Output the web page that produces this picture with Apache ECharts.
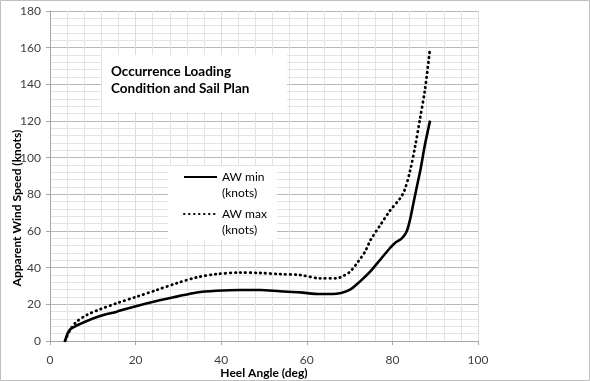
<!DOCTYPE html>
<html><head><meta charset="utf-8">
<script src="https://cdn.jsdelivr.net/npm/echarts@6/dist/echarts.min.js"></script>
<style>html,body{margin:0;padding:0;background:#fff}#c{width:590px;height:381px}</style>
</head><body><div id="c"></div>
<script>
const heelMin = [3.5, 4.3, 5.1, 8.2, 11.7, 15.6, 20.3, 24.9, 29.6, 34.3, 38.9, 44.4, 49.1, 53.7, 58.4, 63.1, 66, 68, 70.1, 72.4, 74.8, 77.1, 79.4, 80.6, 82.2, 83.3, 84.1, 84.9, 85.7, 86.6, 87.6, 88.8];
const awMin   = [0, 5, 7, 10.5, 13.6, 16, 19.1, 21.8, 24.2, 26.5, 27.4, 27.8, 27.8, 27.1, 26.5, 25.6, 25.6, 26.2, 28, 32.4, 37.8, 44.2, 50.6, 53.5, 56, 59.6, 66, 75, 84, 94, 107, 120.2];
const heelMax = [3.5, 4.7, 6.2, 8.6, 11.7, 15.6, 20.3, 24.9, 29.6, 34.3, 38.9, 44.4, 49.1, 53.7, 58.4, 63.1, 67, 68.5, 70.1, 72, 73.6, 74.9, 77.1, 79.4, 81.8, 82.8, 84.1, 85.3, 86.4, 87.6, 88.8];
const awMax   = [0, 6, 10.5, 14.2, 17.3, 20.6, 24.2, 27.8, 31.5, 34.7, 36.5, 37.3, 37.1, 36.5, 36, 34.2, 34.2, 35.5, 37.8, 43.3, 48.7, 55.1, 63, 71, 77.8, 82, 92.5, 106, 120.6, 137, 159.7];
const seriesNames = ['AW min (knots)', 'AW max (knots)'];
const chartTitle = 'Occurrence Loading\nCondition and Sail Plan';
const xName = 'Heel Angle (deg)';
const yName = 'Apparent Wind Speed (knots)';

const FONT = 'Lato';
const chart = echarts.init(document.getElementById('c'), null, {renderer: 'canvas'});
const pairs = (xs, ys) => xs.map((x, i) => [x, ys[i]]);
chart.setOption({
  animation: false,
  backgroundColor: '#fff',
  textStyle: {fontFamily: FONT},
  grid: {left: 50, right: 112, top: 11, bottom: 40, containLabel: false, outerBoundsMode: 'none'},
  xAxis: {
    type: 'value', min: 0, max: 100, interval: 20,
    name: xName, nameLocation: 'middle', nameGap: 26, nameMoveOverlap: false,
    nameTextStyle: {fontFamily: FONT, fontWeight: 'bold', fontSize: 12, color: '#000'},
    axisLine: {show: true, lineStyle: {color: '#a6a6a6', width: 1}},
    axisTick: {show: true, length: 4, inside: false, lineStyle: {color: '#a6a6a6'}},
    axisLabel: {fontFamily: FONT, fontSize: 12, color: '#404040', margin: 13},
    splitLine: {show: true, lineStyle: {color: '#dcdcdc', width: 1}},
    minorTick: {show: false, splitNumber: 5},
    minorSplitLine: {show: true, lineStyle: {color: '#e4e4e4', width: 1}}
  },
  yAxis: {
    type: 'value', min: 0, max: 180, interval: 20,
    name: yName, nameLocation: 'middle', nameGap: 27, nameRotate: 90, nameMoveOverlap: false,
    nameTextStyle: {fontFamily: FONT, fontWeight: 'bold', fontSize: 12, color: '#000', padding: [0, 64, 0, 0]},
    axisLine: {show: true, lineStyle: {color: '#a6a6a6', width: 1}},
    axisTick: {show: true, length: 4, inside: false, lineStyle: {color: '#a6a6a6'}},
    axisLabel: {fontFamily: FONT, fontSize: 12, color: '#404040', margin: 9},
    splitLine: {show: true, lineStyle: {color: '#b8b8b8', width: 1}},
    minorTick: {show: false, splitNumber: 5},
    minorSplitLine: {show: true, lineStyle: {color: '#e4e4e4', width: 1}}
  },
  legend: {
    show: true, orient: 'vertical', left: 183, top: 153,
    itemWidth: 33, itemHeight: 14, itemGap: -11, padding: 0,
    itemStyle: {color: 'rgba(0,0,0,0)', borderColor: 'rgba(0,0,0,0)', borderWidth: 0},
    formatter: n => '\u00a0\n' + n.replace(' (', '\n('),
    textStyle: {fontFamily: FONT, fontSize: 12, color: '#000', lineHeight: 16},
    data: seriesNames, z: 10
  },
  graphic: [
    {type: 'rect', z: 0, shape: {x: 0.5, y: 0.5, width: 589, height: 380}, style: {fill: 'none', stroke: '#c0c0c0', lineWidth: 1}, silent: true},
    {type: 'rect', z: 5, shape: {x: 102, y: 55, width: 185, height: 57}, style: {fill: '#fff'}, silent: true},
    {type: 'text', z: 6, left: 111, top: 63, style: {text: chartTitle, fontFamily: FONT, fontWeight: 'bold', fontSize: 13.5, lineHeight: 17, fill: '#000'}},
    {type: 'rect', z: 5, shape: {x: 168, y: 166, width: 109, height: 74}, style: {fill: '#fff'}, silent: true}
  ],
  series: [
    {name: seriesNames[0], type: 'line', data: pairs(heelMin, awMin), smooth: 0.3, showSymbol: false, symbol: 'none', z: 3,
      lineStyle: {color: '#000', width: 2.6, type: 'solid'}, itemStyle: {color: '#000'}},
    {name: seriesNames[1], type: 'line', data: pairs(heelMax, awMax), smooth: 0.3, showSymbol: false, symbol: 'none', z: 3,
      lineStyle: {color: '#000', width: 2.8, type: [0.5, 4.5], cap: 'round'}, itemStyle: {color: '#000'}}
  ]
});
</script></body></html>
